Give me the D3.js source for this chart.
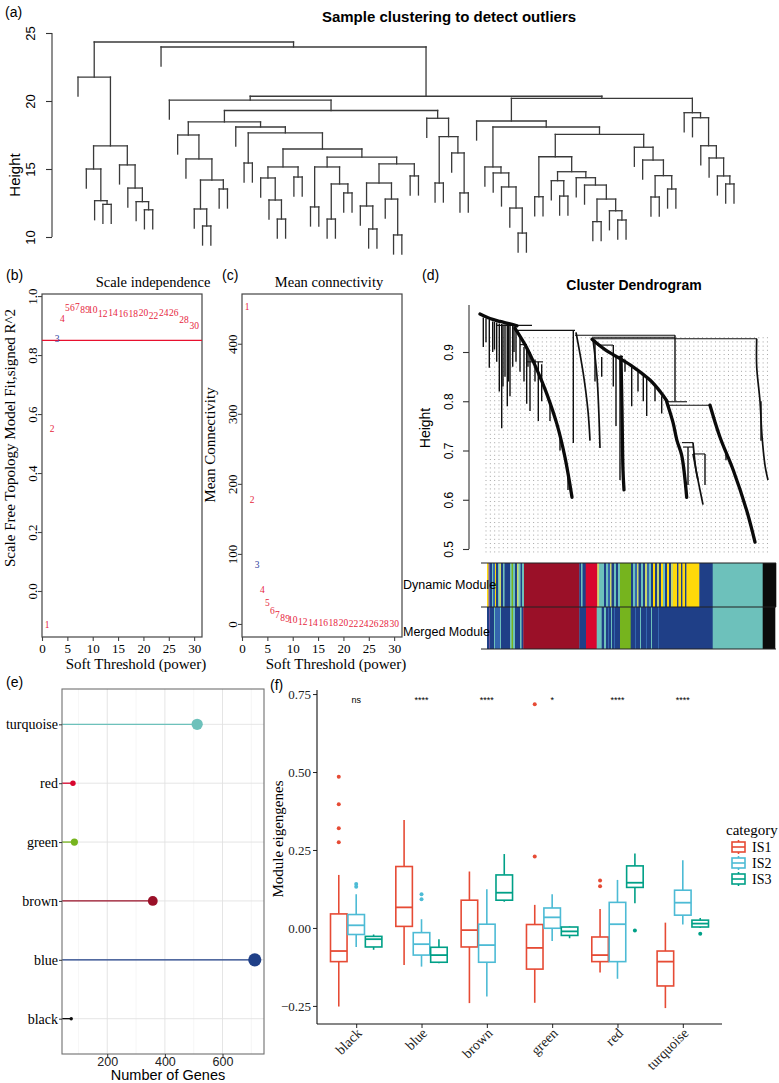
<!DOCTYPE html>
<html><head><meta charset="utf-8">
<script src="https://cdn.jsdelivr.net/npm/d3@7"></script>
<style>body{margin:0;background:#fff}svg{display:block}</style>
</head><body><svg id="c" width="779" height="1083"></svg>
<script>
// ================= DATA =================
// (a) sample dendrogram: [mergeHeight, left, right], 0 = sample leaf
const aTree = [24.34,
  [21.76, 0,
    [16.7,
      [15.0, 0, [12.67, 0, [12.4, 0, 0]]],
      [15.3, 0, [13.6, 0, [12.6, 0, [12.0, 0, 0]]]]]],
  [23.97, 0,
    [20.35,
      [20.07, 0,
        [19.3,
          [18.46,
            [17.5, 0, [15.74, 0, [14.19, [12.06, 0, [10.81, 0, 0]], [13.53, 0, 0]]]],
            [18.09, 0, [17.65, [15.44, 0, 0],
              [16.47,
                [15.15, [14.34, 0, [12.72, 0, [11.32, 0, 0]]], [14.41, 0, 0]],
                [15.88,
                  [15.15, [12.21, 0, 0], [13.9, [11.32, 0, 0], [13.24, 0, 0]]],
                  [15.37,
                    [13.97, [12.28, 0, [10.59, 0, 0]], [12.79, 0, [10.15, 0, 0]]],
                    [14.49, 0, 0]]]]]]],
          [18.73, 0, [17.38, [13.97, 0, 0], [16.18, 0, [13.24, 0, 0]]]]]],
      [20.2,
        [18.53, 0,
          [18.09,
            [15.15, 0, [14.71, 0, [13.68, 0, [12.13, 0, [10.29, 0, 0]]]]],
            [17.55,
              [15.9, [12.96, 0, 0], [14.8, [14.14, 0, [13.01, 0, 0]], [14.36, 0, [13.82, 0, [12.79, [11.13, 0, 0], [11.93, 0, [11.25, 0, 0]]]]]]],
              [16.6, 0, [15.66, 0, [14.51, [12.94, 0, 0], [13.53, 0, 0]]]]]]],
        [19.14, 0, [18.77, 0, [16.71, 0, [15.81, 0, [14.49, 0, [13.9, 0, 0]]]]]]]]]];
const aTicks = [10, 15, 20, 25];
const aHang = 1.4;

// (b),(c) soft threshold
const powers = [1,2,3,4,5,6,7,8,9,10,12,14,16,18,20,22,24,26,28,30];
const fitR2  = [-0.115,0.55,0.854,0.925,0.96,0.96,0.963,0.955,0.955,0.955,0.94,0.945,0.94,0.94,0.945,0.935,0.945,0.945,0.92,0.898];
const meanK  = [453,177,84,49,31,19,13,9,7,5.5,3.5,2.5,2,1.5,1.2,1,0.8,0.6,0.5,0.4];
const chosenPower = 3;
const fitCutoff = 0.85;
const bTicksY = [0,0.2,0.4,0.6,0.8,1.0];
const cTicksY = [0,100,200,300,400];
const threshTicksX = [0,5,10,15,20,25,30];

// (d) gene dendrogram, polylines of [gene position, height]
const dMajor = [
  [[0,0.977],[10,0.968],[20,0.962],[30,0.957],[37,0.953]],
  [[35,0.948],[45,0.915],[53,0.882],[62,0.84],[67,0.814],[77,0.753],[85,0.686],[92,0.605]],
  [[112,0.926],[125,0.905],[137,0.89],[153,0.87],[170,0.843],[180,0.82],[187,0.80]],
  [[187,0.797],[193,0.757],[197,0.72],[201.7,0.69],[206.7,0.605]],
  [[230,0.792],[240,0.727],[253.3,0.66],[266.7,0.578],[275,0.514]],
  [[141,0.89],[142,0.78],[143,0.66],[144,0.62]]
];
const dMinor = [
  [[96,0.94],[103,0.86],[108,0.78],[110,0.72]],
  [[113,0.925],[117,0.85],[120,0.705]],
  [[213,0.716],[216,0.66],[218,0.64]],
  [[213,0.693],[218,0.64],[223,0.59]],
  [[276.7,0.927],[276.7,0.87],[280,0.80],[282,0.73],[285,0.67],[288,0.64]]
];
const dHoriz = [[17,52,0.954],[37,95,0.944],[95,195,0.934],[112,277,0.927],[112,195,0.930],[117,133,0.914],[133,143,0.891],[40,47,0.915],[47,63,0.88],[185,207,0.799],[187,230,0.792],[202,213,0.716],[203,213,0.707],[213,225,0.693]];
const dSpikes = [[3.3,0.97,0.91],[6,0.968,0.92],[9.3,0.965,0.868],[12.7,0.962,0.90],[14.5,0.961,0.905],[16.7,0.96,0.88],[19.3,0.958,0.82],[21.7,0.957,0.745],[23,0.956,0.83],[25,0.956,0.85],[27.3,0.955,0.79],[28.5,0.955,0.84],[30,0.954,0.81],[32.7,0.953,0.87],[34,0.952,0.9],[36,0.95,0.88],[40,0.93,0.86],[44,0.91,0.84],[46.7,0.905,0.795],[48,0.905,0.87],[50,0.9,0.78],[55,0.885,0.84],[58.3,0.88,0.76],[61.7,0.875,0.80],[70,0.80,0.76],[80,0.73,0.70],[88,0.66,0.62],[93.3,0.944,0.715],[115,0.925,0.84],[121.7,0.89,0.85],[133.3,0.914,0.83],[136,0.89,0.75],[140,0.89,0.64],[145,0.885,0.86],[151.7,0.87,0.79],[158,0.865,0.82],[163.3,0.855,0.80],[166.7,0.85,0.77],[175,0.835,0.80],[181.7,0.81,0.775],[195,0.934,0.80],[208,0.707,0.63],[225,0.693,0.63],[246,0.70,0.68],[281,0.80,0.72]];
const dTicks = [0.5,0.6,0.7,0.8,0.9];
const dynamicRuns = [[7,8.5,"yellow"],[8.5,10,"purple"],[10,12,"blue"],[12,13,"turquoise"],[13,15,"midblue"],[15,16,"yellow"],[16,18,"blue"],[18,19.5,"turquoise"],[19.5,21,"lightgreen"],[21,23,"blue"],[23,24.5,"turquoise"],[24.5,30,"blue"],[30,31.5,"turquoise"],[31.5,33,"green"],[33,35,"turquoise"],[35,37,"blue"],[37,38.5,"lightgreen"],[38.5,40.5,"turquoise"],[40.5,42,"blue"],[42,44,"turquoise"],
  [44,99.3,"brown"],[99.3,101,"blue"],[101,102.5,"turquoise"],[102.5,105.7,"blue"],[105.7,117.3,"red"],
  [117.3,119,"lightgreen"],[119,124,"turquoise"],[124,126,"blue"],[126,128,"turquoise"],[128,130,"midblue"],[130,131.5,"lightgreen"],[131.5,134,"blue"],[134,136,"turquoise"],[136,138,"blue"],[138,140,"turquoise"],
  [140,151,"green"],
  [151,153,"blue"],[153,155,"turquoise"],[155,157,"midblue"],[157,158.5,"lightgreen"],[158.5,161,"blue"],[161,163,"turquoise"],[163,165,"blue"],[165,167,"lightgreen"],[167,169,"midblue"],[169,171,"turquoise"],[171,173,"blue"],[173,175,"yellow"],[175,177,"blue"],[177,179,"lightgreen"],[179,181,"blue"],[181,183,"yellow"],[183,185,"turquoise"],[185,187,"blue"],[187,189,"yellow"],[189,191,"blue"],[191,193,"lightgreen"],[193,197,"yellow"],[197,198.5,"blue"],[198.5,201,"yellow"],[201,202.5,"blue"],[202.5,205,"yellow"],[205,206.5,"blue"],[206.5,219.3,"yellow"],
  [219.3,232.7,"blue"],[232.7,282.7,"turquoise"],[282.7,296,"black"]];
const mergedRuns = [[7,9,"blue"],[9,10,"purple"],[10,14,"blue"],[14,15,"turquoise"],[15,20,"midblue"],[20,21,"turquoise"],[21,30,"blue"],[30,31.5,"turquoise"],[31.5,33,"green"],[33,35,"turquoise"],[35,40,"blue"],[40,41.5,"turquoise"],[41.5,43.3,"blue"],
  [43.3,99.3,"brown"],[99.3,106,"blue"],[106,116.7,"red"],[116.7,121.7,"turquoise"],[121.7,124,"blue"],[124,126,"turquoise"],[126,128,"blue"],[128,129,"midblue"],[129,131,"blue"],[131,132,"turquoise"],[132,134,"blue"],[134,135,"midblue"],[135,140,"blue"],
  [140,150.7,"green"],[150.7,155,"blue"],[155,156,"midblue"],[156,160,"blue"],[160,161,"turquoise"],[161,166,"blue"],[166,167,"midblue"],[167,171,"blue"],[171,172,"turquoise"],[172,178,"blue"],[178,179,"midblue"],[179,232.7,"blue"],
  [232.7,282.7,"turquoise"],[282.7,295,"black"]];

// (e) module sizes
const eModules = ["turquoise","red","green","brown","blue","black"];
const eGenes = [512, 81, 86, 358, 712, 75];
const eTicks = [200, 400, 600];

// (f) module eigengenes boxplots: [lowerWhisker, Q1, median, Q3, upperWhisker]
const fModules = ["black","blue","brown","green","red","turquoise"];
const fGroups = ["IS1","IS2","IS3"];
const is1Box = [[-0.252,-0.108,-0.074,0.045,0.170],[-0.119,0.005,0.066,0.197,0.346],[-0.241,-0.061,-0.007,0.089,0.181],[-0.240,-0.132,-0.064,0.011,0.074],[-0.143,-0.108,-0.087,-0.029,0.061],[-0.257,-0.186,-0.108,-0.074,0.017]];
const is2Box = [[-0.061,-0.021,0.0085,0.043,0.108],[-0.124,-0.087,-0.052,-0.015,0.028],[-0.220,-0.110,-0.055,0.012,0.124],[-0.042,-0.001,0.034,0.064,0.108],[-0.163,-0.108,0.012,0.082,0.154],[0.011,0.041,0.081,0.121,0.217]];
const is3Box = [[-0.070,-0.061,-0.036,-0.027,-0.021],[-0.113,-0.110,-0.087,-0.062,-0.036],[0.084,0.089,0.113,0.170,0.237],[-0.033,-0.024,-0.011,0.003,0.005],[0.079,0.130,0.145,0.199,0.239],[0.000,0.003,0.014,0.025,0.032]];
const is1Out = [["black",0.485],["black",0.397],["black",0.320],["black",0.275],["green",0.717],["green",0.229],["red",0.152],["red",0.134]];
const is2Out = [["black",0.141],["black",0.132],["blue",0.108],["blue",0.092]];
const is3Out = [["red",-0.008],["turquoise",-0.019]];
const fSig = ["ns","****","****","*","****","****"];
const fTicks = [-0.25, 0, 0.25, 0.5, 0.75];

// ================= STYLE =================
const SANS = "'Liberation Sans', Arial, sans-serif";
const SERIF = "'Liberation Serif', 'Times New Roman', serif";
const modCol = {turquoise:"#6DC1BB", blue:"#1F3F87", brown:"#9A1028", yellow:"#FFD90A", green:"#76B41E", red:"#D8062E", black:"#0B0B0B", midblue:"#3566AE", purple:"#6A5AA0", lightgreen:"#C8D86A"};
const grpCol = {IS1:"#E64B35", IS2:"#4DBBD5", IS3:"#00A087"};
const labRed = "#E61E3C", labBlue = "#3040A0";

const svg = d3.select("#c");
svg.append("rect").attr("width",779).attr("height",1083).attr("fill","#fff");
function txt(g, x, y, s, font, opts={}) {
  const t = g.append("text").attr("x",x).attr("y",y).text(s).style("font",font).attr("fill",opts.fill||"#000")
    .attr("text-anchor",opts.anchor||"start");
  if (opts.rot) t.attr("transform",`rotate(${opts.rot},${x},${y})`);
  return t;
}
function rotLeftAxis(g, scale, ticks, fmt, tick, pad, font, color) {
  g.call(d3.axisLeft(scale).tickValues(ticks).tickFormat(fmt).tickSize(tick).tickSizeOuter(0));
  g.select(".domain").remove();
  g.selectAll(".tick line").attr("stroke",color).attr("stroke-width",1.1);
  g.selectAll(".tick text").attr("transform","rotate(-90)").attr("x",0).attr("y",-pad).attr("dy",0)
    .attr("text-anchor","middle").style("font",font).attr("fill","#000");
}

// ================= (a) =================
const gA = svg.append("g");
const yA = d3.scaleLinear().domain([10,25]).range([237,33]);
function countLeaves(n){ return n===0 ? 1 : countLeaves(n[1]) + countLeaves(n[2]); }
const xA = d3.scaleLinear().domain([0, countLeaves(aTree)-1]).range([78,734]);
let leafIdx = 0; const aSegs = [];
function layoutA(n) {
  if (n === 0) return {x: xA(leafIdx++), leaf: true};
  const l = layoutA(n[1]), r = layoutA(n[2]), y = yA(n[0]);
  [l, r].forEach(c => aSegs.push([c.x, c.leaf ? yA(n[0]-aHang) : yA(c.h), c.x, y]));
  aSegs.push([l.x, y, r.x, y]);
  return {x: (l.x + r.x) / 2, h: n[0]};
}
layoutA(aTree);
gA.selectAll("line.seg").data(aSegs).join("line").attr("class","seg")
  .attr("x1",d=>d[0]).attr("y1",d=>d[1]).attr("x2",d=>d[2]).attr("y2",d=>d[3])
  .attr("stroke","#3a3a3a").attr("stroke-width",1.3).attr("stroke-linecap","square");
const axA = gA.append("g").attr("transform","translate(52,0)");
rotLeftAxis(axA, yA, aTicks, d3.format("d"), 6, 17, `13px ${SANS}`, "#333");
axA.append("line").attr("y1",yA(10)).attr("y2",yA(25)).attr("stroke","#333").attr("stroke-width",1.1);
txt(gA, 5, 17, "(a)", `14px ${SANS}`);
txt(gA, 449, 22, "Sample clustering to detect outliers", `bold 15px ${SANS}`, {anchor:"middle"});
txt(gA, 20, 175, "Height", `15px ${SANS}`, {anchor:"middle", rot:-90});

// ================= (b) & (c) =================
function threshPanel(x0, values, yDomain, yTicks, yFmt, title, titleX, ylab, ylabX, ylabY, withLine) {
  const g = svg.append("g");
  const xs = d3.scaleLinear().domain([0,31.55]).range([x0, x0+160]);
  const ys = d3.scaleLinear().domain(yDomain).range([637,294]);
  g.append("rect").attr("x",x0).attr("y",294).attr("width",160).attr("height",343)
    .attr("fill","none").attr("stroke","#444").attr("stroke-width",1.2);
  const ay = g.append("g").attr("transform",`translate(${x0},0)`);
  rotLeftAxis(ay, ys, yTicks, yFmt, 4, 5, `13px ${SERIF}`, "#444");
  const ax = g.append("g").attr("transform","translate(0,637)")
    .call(d3.axisBottom(xs).tickValues(threshTicksX).tickSize(4).tickSizeOuter(0));
  ax.select(".domain").remove();
  ax.selectAll(".tick line").attr("stroke","#444").attr("stroke-width",1.1);
  ax.selectAll(".tick text").attr("y",7).attr("dy","0.71em").style("font",`13px ${SERIF}`).attr("fill","#000");
  if (withLine) g.append("line").attr("x1",x0).attr("x2",x0+160).attr("y1",ys(fitCutoff)).attr("y2",ys(fitCutoff))
    .attr("stroke","#E8102E").attr("stroke-width",1.3);
  g.selectAll("text.pt").data(powers).join("text").attr("class","pt")
    .attr("x",(d)=>xs(d)).attr("y",(d,i)=>ys(values[i])).attr("dy","0.35em").attr("text-anchor","middle")
    .style("font",`9.5px ${SERIF}`).attr("fill",d=>d===chosenPower?labBlue:labRed).text(d=>d);
  txt(g, titleX, 287, title, `14.5px ${SERIF}`, {anchor:"middle"});
  txt(g, ylabX, ylabY, ylab, `15px ${SERIF}`, {anchor:"middle", rot:-90});
  txt(g, x0+94, 669, "Soft Threshold (power)", `15px ${SERIF}`, {anchor:"middle"});
  return g;
}
const gB = threshPanel(42, fitR2, [-0.156,1.007], bTicksY, d3.format(".1f"), "Scale independence", 153,
  "Scale Free Topology Model Fit,signed R^2", 15, 438, true);
txt(gB, 6, 280, "(b)", `14px ${SANS}`);
const gC = threshPanel(242, meanK, [-18.6,471], cTicksY, d3.format("d"), "Mean connectivity", 329,
  "Mean Connectivity", 215, 445, false);
txt(gC, 222, 280, "(c)", `14px ${SANS}`);

// ================= (d) =================
const gD = svg.append("g");
const xD = d3.scaleLinear().domain([0,296]).range([480,776]);
const yD = d3.scaleLinear().domain([0.5,0.9]).range([549,352]);
const guidePos = d3.range(6, 290, 4.33);
gD.selectAll("line.guide").data(guidePos).join("line").attr("class","guide")
  .attr("x1",d=>xD(d)).attr("x2",d=>xD(d)).attr("y1",yD(0.93)).attr("y2",553)
  .attr("stroke","#9a9a9a").attr("stroke-width",0.9).attr("stroke-dasharray","1,3.2");
const lineDy = d3.line().x(d=>xD(d[0])).y(d=>yD(d[1])).curve(d3.curveCatmullRom);
gD.selectAll("line.spk").data(dSpikes).join("line").attr("class","spk")
  .attr("x1",d=>xD(d[0])).attr("x2",d=>xD(d[0])).attr("y1",d=>yD(d[1])).attr("y2",d=>yD(d[2]))
  .attr("stroke","#111").attr("stroke-width",1.4);
gD.selectAll("line.hz").data(dHoriz).join("line").attr("class","hz")
  .attr("x1",d=>xD(d[0])).attr("x2",d=>xD(d[1])).attr("y1",d=>yD(d[2])).attr("y2",d=>yD(d[2]))
  .attr("stroke","#111").attr("stroke-width",1.1);
gD.selectAll("path.minor").data(dMinor).join("path").attr("class","minor").attr("d",lineDy)
  .attr("fill","none").attr("stroke","#111").attr("stroke-width",1.7);
gD.selectAll("path.major").data(dMajor).join("path").attr("class","major").attr("d",lineDy)
  .attr("fill","none").attr("stroke","#0a0a0a").attr("stroke-width",3.3).attr("stroke-linecap","round");
function bar(runs, y0, y1) {
  gD.append("g").selectAll("rect").data(runs).join("rect")
    .attr("x",d=>xD(d[0])).attr("width",d=>xD(d[1])-xD(d[0])+0.3).attr("y",y0).attr("height",y1-y0)
    .attr("fill",d=>modCol[d[2]]);
}
bar(dynamicRuns, 563, 607);
bar(mergedRuns, 607, 649);
[563,607,649].forEach(y=>gD.append("line").attr("x1",481).attr("x2",776).attr("y1",y).attr("y2",y).attr("stroke","#222").attr("stroke-width",1.2));
const axD = gD.append("g").attr("transform","translate(469,0)");
rotLeftAxis(axD, yD, dTicks, d3.format(".1f"), 6, 16, `12px ${SANS}`, "#333");
axD.append("line").attr("y1",yD(0.5)).attr("y2",305).attr("stroke","#333").attr("stroke-width",1.1);
txt(gD, 422, 280, "(d)", `14px ${SANS}`);
txt(gD, 634, 290, "Cluster Dendrogram", `bold 14px ${SANS}`, {anchor:"middle"});
txt(gD, 430, 428, "Height", `14px ${SANS}`, {anchor:"middle", rot:-90});
txt(gD, 403, 589, "Dynamic Module", `12.5px ${SANS}`);
txt(gD, 403, 636, "Merged Module", `12.5px ${SANS}`);

// ================= (e) =================
const gE = svg.append("g");
const xE = d3.scaleLinear().domain([43,744]).range([62,264]);
const yE = d3.scalePoint().domain(eModules).range([689,1054]).padding(0.6);
const rE = d3.scaleLinear().domain([75,86,712]).range([1.7,3.6,6.6]);
gE.selectAll("line.mn").data([100,300,500,700]).join("line").attr("class","mn")
  .attr("x1",d=>xE(d)).attr("x2",d=>xE(d)).attr("y1",689).attr("y2",1054).attr("stroke","#f0f0f0").attr("stroke-width",0.6);
gE.selectAll("line.mj").data(eTicks).join("line").attr("class","mj")
  .attr("x1",d=>xE(d)).attr("x2",d=>xE(d)).attr("y1",689).attr("y2",1054).attr("stroke","#e2e2e2").attr("stroke-width",0.9);
gE.selectAll("line.hy").data(eModules).join("line").attr("class","hy")
  .attr("x1",62).attr("x2",264).attr("y1",d=>yE(d)).attr("y2",d=>yE(d)).attr("stroke","#e2e2e2").attr("stroke-width",0.9);
gE.selectAll("line.stem").data(eModules).join("line").attr("class","stem")
  .attr("x1",xE.range()[0]).attr("x2",(d,i)=>xE(eGenes[i])).attr("y1",d=>yE(d)).attr("y2",d=>yE(d))
  .attr("stroke",d=>modCol[d]).attr("stroke-width",1.3);
gE.selectAll("circle").data(eModules).join("circle")
  .attr("cx",(d,i)=>xE(eGenes[i])).attr("cy",d=>yE(d)).attr("r",(d,i)=>rE(eGenes[i])).attr("fill",d=>modCol[d]);
gE.append("rect").attr("x",62).attr("y",689).attr("width",202).attr("height",365).attr("fill","none").attr("stroke","#707070").attr("stroke-width",1.1);
const axEx = gE.append("g").attr("transform","translate(0,1054)").call(d3.axisBottom(xE).tickValues(eTicks).tickSize(3).tickSizeOuter(0));
axEx.select(".domain").remove();
axEx.selectAll(".tick line").attr("stroke","#333");
axEx.selectAll(".tick text").attr("y",3).attr("dy","0.71em").style("font",`12.5px ${SANS}`).attr("fill","#222");
const axEy = gE.append("g").attr("transform","translate(62,0)").call(d3.axisLeft(yE).tickSize(3).tickSizeOuter(0));
axEy.select(".domain").remove();
axEy.selectAll(".tick line").attr("stroke","#333");
axEy.selectAll(".tick text").attr("x",-4).style("font",`14px ${SERIF}`).attr("fill","#000");
txt(gE, 168, 1080, "Number of Genes", `14.5px ${SANS}`, {anchor:"middle"});
txt(gE, 6, 687, "(e)", `14px ${SANS}`);

// ================= (f) =================
const gF = svg.append("g");
const xF = d3.scalePoint().domain(fModules).range([317,722]).padding(0.6);
const yF = d3.scaleLinear().domain([-0.308,0.763]).range([1024,690]);
const offF = d3.scaleBand().domain(fGroups).range([-xF.step()*0.4, xF.step()*0.4]);
const bw = offF.bandwidth()*0.95;
const boxSets = {IS1:is1Box, IS2:is2Box, IS3:is3Box};
const outSets = {IS1:is1Out, IS2:is2Out, IS3:is3Out};
fGroups.forEach(gname => {
  const col = grpCol[gname];
  const gg = gF.append("g");
  const cx = m => xF(m) + offF(gname) + offF.bandwidth()/2;
  const data = fModules.map((m,i)=>({m, s: boxSets[gname][i]}));
  gg.selectAll("line.wl").data(data).join("line").attr("x1",d=>cx(d.m)).attr("x2",d=>cx(d.m))
    .attr("y1",d=>yF(d.s[0])).attr("y2",d=>yF(d.s[1])).attr("stroke",col).attr("stroke-width",1.6);
  gg.selectAll("line.wu").data(data).join("line").attr("x1",d=>cx(d.m)).attr("x2",d=>cx(d.m))
    .attr("y1",d=>yF(d.s[3])).attr("y2",d=>yF(d.s[4])).attr("stroke",col).attr("stroke-width",1.6);
  gg.selectAll("rect").data(data).join("rect").attr("x",d=>cx(d.m)-bw/2).attr("width",bw)
    .attr("y",d=>yF(d.s[3])).attr("height",d=>yF(d.s[1])-yF(d.s[3]))
    .attr("fill","#fff").attr("stroke",col).attr("stroke-width",1.6);
  gg.selectAll("line.md").data(data).join("line").attr("x1",d=>cx(d.m)-bw/2).attr("x2",d=>cx(d.m)+bw/2)
    .attr("y1",d=>yF(d.s[2])).attr("y2",d=>yF(d.s[2])).attr("stroke",col).attr("stroke-width",1.8);
  gg.selectAll("circle").data(outSets[gname]).join("circle").attr("cx",d=>cx(d[0])).attr("cy",d=>yF(d[1]))
    .attr("r",2).attr("fill",col);
});
gF.selectAll("text.sig").data(fModules).join("text").attr("class","sig")
  .attr("x",d=>xF(d)).attr("y",yF(0.73)+3).attr("text-anchor","middle").style("font",`9px ${SANS}`)
  .text((d,i)=>fSig[i]);
const axFy = gF.append("g").attr("transform","translate(317,0)")
  .call(d3.axisLeft(yF).tickValues(fTicks).tickFormat(d3.format(".2f")).tickSize(4).tickSizeOuter(0));
axFy.select(".domain").remove();
axFy.selectAll(".tick line").attr("stroke","#222");
axFy.selectAll(".tick text").attr("x",-6).style("font",`13px ${SERIF}`).attr("fill","#222");
const axFx = gF.append("g").attr("transform","translate(0,1024)")
  .call(d3.axisBottom(xF).tickSize(4).tickSizeOuter(0));
axFx.select(".domain").remove();
axFx.selectAll(".tick line").attr("stroke","#222");
axFx.selectAll(".tick text").attr("x",0).attr("y",0).attr("dy",0).attr("text-anchor","end")
  .attr("transform","translate(6,10) rotate(-45)").style("font",`14px ${SERIF}`).attr("fill","#222");
gF.append("line").attr("x1",317).attr("x2",317).attr("y1",690).attr("y2",1024).attr("stroke","#111").attr("stroke-width",1.1);
gF.append("line").attr("x1",317).attr("x2",722).attr("y1",1024).attr("y2",1024).attr("stroke","#111").attr("stroke-width",1.1);
txt(gF, 283, 839, "Module eigengenes", `15px ${SERIF}`, {anchor:"middle", rot:-90});
txt(gF, 270, 690, "(f)", `14px ${SANS}`);
txt(gF, 726, 835, "category", `15px ${SERIF}`);
const legY = d3.scalePoint().domain(fGroups).range([847,879]);
fGroups.forEach(gname => {
  const c = legY(gname), col = grpCol[gname];
  gF.append("line").attr("x1",738.5).attr("x2",738.5).attr("y1",c-7).attr("y2",c+7).attr("stroke",col).attr("stroke-width",1.6);
  gF.append("rect").attr("x",732).attr("y",c-5).attr("width",13).attr("height",10).attr("fill","#fff").attr("stroke",col).attr("stroke-width",1.6);
  gF.append("line").attr("x1",732).attr("x2",745).attr("y1",c).attr("y2",c).attr("stroke",col).attr("stroke-width",1.6);
  txt(gF, 752, c+5, gname, `14px ${SERIF}`);
});
</script></body></html>
